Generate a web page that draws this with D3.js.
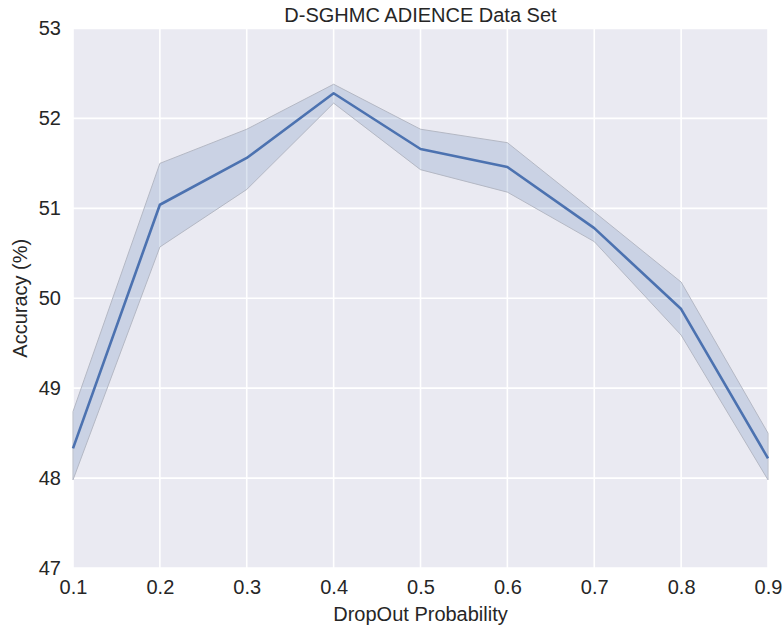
<!DOCTYPE html>
<html>
<head>
<meta charset="utf-8">
<title>D-SGHMC ADIENCE Data Set</title>
<script src="https://d3js.org/d3.v7.min.js"></script>
<style>
  body { margin: 0; background: #fff; }
  svg text { font-family: "Liberation Sans", Arial, sans-serif; fill: #262626; }
</style>
</head>
<body>
<svg width="784" height="628"></svg>
<script>
// data
var dropout = [0.1, 0.2, 0.3, 0.4, 0.5, 0.6, 0.7, 0.8, 0.9];
var meanAcc = [48.33, 51.04, 51.56, 52.28, 51.66, 51.46, 50.78, 49.88, 48.22];
var upperAcc = [48.74, 51.50, 51.88, 52.38, 51.88, 51.73, 50.96, 50.18, 48.50];
var lowerAcc = [47.98, 50.57, 51.21, 52.17, 51.43, 51.18, 50.63, 49.59, 47.98];
var xTicks = [0.1, 0.2, 0.3, 0.4, 0.5, 0.6, 0.7, 0.8, 0.9];
var yTicks = [47, 48, 49, 50, 51, 52, 53];

var svg = d3.select("svg");
// plot box (window.top is reserved, so use other names)
var plotL = 73, plotR = 768, plotT = 28.5, plotB = 568;

var x = d3.scaleLinear().domain([0.1, 0.9]).range([plotL, plotR]);
var y = d3.scaleLinear().domain([47, 53]).range([plotB, plotT]);

// background
svg.append("rect")
    .attr("x", plotL).attr("y", plotT)
    .attr("width", plotR - plotL).attr("height", plotB - plotT)
    .attr("fill", "#EAEAF2");

// grid
svg.append("g").selectAll("line")
    .data(xTicks).enter().append("line")
    .attr("x1", d => x(d)).attr("x2", d => x(d))
    .attr("y1", plotT).attr("y2", plotB)
    .attr("stroke", "#fff").attr("stroke-width", 1.6);
svg.append("g").selectAll("line")
    .data(yTicks).enter().append("line")
    .attr("x1", plotL).attr("x2", plotR)
    .attr("y1", d => y(d)).attr("y2", d => y(d))
    .attr("stroke", "#fff").attr("stroke-width", 1.6);

// axes (labels only, seaborn style)
var xAxis = svg.append("g")
    .attr("transform", "translate(0," + plotB + ")")
    .call(d3.axisBottom(x).tickValues(xTicks).tickSize(0).tickPadding(12).tickFormat(d3.format(".1f")));
var yAxis = svg.append("g")
    .attr("transform", "translate(" + plotL + ",0)")
    .call(d3.axisLeft(y).tickValues(yTicks).tickSize(0).tickPadding(12).tickFormat(d3.format("d")));
[xAxis, yAxis].forEach(function(g) {
    g.select(".domain").remove();
    g.selectAll("text").attr("font-size", 20)
        .style("font-family", "'Liberation Sans', Arial, sans-serif").attr("fill", "#262626");
});

// confidence band
var rows = dropout.map((d, i) => ({x: d, m: meanAcc[i], lo: lowerAcc[i], hi: upperAcc[i]}));
svg.append("path")
    .datum(rows)
    .attr("d", d3.area().x(d => x(d.x)).y0(d => y(d.lo)).y1(d => y(d.hi)))
    .attr("fill", "#4C72B0").attr("fill-opacity", 0.2)
    .attr("stroke", "#b4b8c4").attr("stroke-width", 1);

// mean line
svg.append("path")
    .datum(rows)
    .attr("d", d3.line().x(d => x(d.x)).y(d => y(d.m)))
    .attr("fill", "none")
    .attr("stroke", "#4C72B0").attr("stroke-width", 2.6)
    .attr("stroke-linejoin", "round");

// titles
svg.append("text")
    .attr("x", (plotL + plotR) / 2).attr("y", 22)
    .attr("text-anchor", "middle").attr("font-size", 20)
    .text("D-SGHMC ADIENCE Data Set");
svg.append("text")
    .attr("x", (plotL + plotR) / 2).attr("y", 621)
    .attr("text-anchor", "middle").attr("font-size", 20)
    .text("DropOut Probability");
svg.append("text")
    .attr("transform", "translate(27," + ((plotT + plotB) / 2) + ") rotate(-90)")
    .attr("text-anchor", "middle").attr("font-size", 20)
    .text("Accuracy (%)");
</script>
</body>
</html>
